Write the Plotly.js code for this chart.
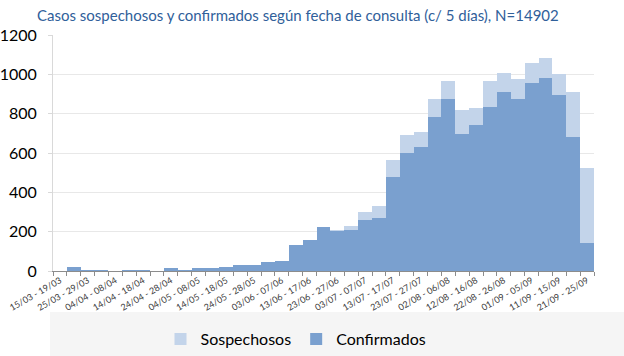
<!DOCTYPE html>
<html>
<head>
<meta charset="utf-8">
<script src="https://cdn.plot.ly/plotly-3.0.1.min.js"></script>
<style>html,body{margin:0;padding:0;background:#fff;}#chart{width:624px;height:356px;}</style>
</head>
<body>
<div id="chart"></div>
<script>
const categories = [
  "15/03 - 19/03","20/03 - 24/03","25/03 - 29/03","30/03 - 03/04","04/04 - 08/04","09/04 - 13/04",
  "14/04 - 18/04","19/04 - 23/04","24/04 - 28/04","29/04 - 03/05","04/05 - 08/05","09/05 - 13/05",
  "14/05 - 18/05","19/05 - 23/05","24/05 - 28/05","29/05 - 02/06","03/06 - 07/06","08/06 - 12/06",
  "13/06 - 17/06","18/06 - 22/06","23/06 - 27/06","28/06 - 02/07","03/07 - 07/07","08/07 - 12/07",
  "13/07 - 17/07","18/07 - 22/07","23/07 - 27/07","28/07 - 01/08","02/08 - 06/08","07/08 - 11/08",
  "12/08 - 16/08","17/08 - 21/08","22/08 - 26/08","27/08 - 31/08","01/09 - 05/09","06/09 - 10/09",
  "11/09 - 15/09","16/09 - 20/09","21/09 - 25/09"
];
const confirmados = [2,18,3,7,1,4,3,2,13,6,15,13,18,32,29,45,53,133,157,224,205,208,257,267,476,601,630,782,875,695,742,835,911,876,956,981,895,682,143];
const sospechosos = [0,0,0,0,0,0,0,0,0,0,0,0,0,0,0,0,0,0,0,0,6,19,42,62,88,91,76,92,93,124,85,130,98,98,104,104,109,228,381];
const yTicks = [0,200,400,600,800,1000,1200];

const idx = categories.map((c,i)=>i);
const tickIdx = idx.filter(i => i % 2 === 0);

const traces = [
  {type:'bar', name:'Confirmados', x: idx, y: confirmados, marker:{color:'#7aa0cf', line:{width:0}}, legendrank:2, hoverinfo:'y'},
  {type:'bar', name:'Sospechosos', x: idx, y: sospechosos, marker:{color:'#c3d4ea', line:{width:0}}, legendrank:1, hoverinfo:'y'}
];

const layout = {
  width:624, height:356,
  margin:{l:53, r:30, t:35, b:85},
  paper_bgcolor:'#ffffff', plot_bgcolor:'#ffffff',
  font:{family:'Lato, "Open Sans", sans-serif', color:'#000'},
  barmode:'stack', bargap:0,
  title:{text:'Casos sospechosos y confirmados según fecha de consulta (c/ 5 días), N=14902',
         font:{size:15, color:'#30609a', family:'Lato, sans-serif'},
         xref:'container', x:37/624, xanchor:'left', yref:'container', y:1-16/356, yanchor:'middle'},
  xaxis:{
    automargin:false,
    range:[-0.5, categories.length-0.5], fixedrange:true,
    tickmode:'array', tickvals: tickIdx, ticktext: tickIdx.map(i=>categories[i]),
    tickangle:-30, tickfont:{size:9, color:'#404040'},
    ticks:'', showgrid:false, zeroline:false,
    showline:true, linecolor:'#8c8c8c', linewidth:1,
    minor:{dtick:1, tick0:0.5, ticks:'outside', ticklen:4, tickcolor:'#8c8c8c', showgrid:false}
  },
  yaxis:{
    automargin:false,
    range:[0,1200], tickmode:'array', tickvals: yTicks,
    tickfont:{size:16, color:'#000'},
    showgrid:true, gridcolor:'#e8e8e8', gridwidth:1,
    zeroline:false, showline:true, linecolor:'#d9d9d9',
    ticks:'outside', ticklen:4, tickcolor:'#d9d9d9', ticklabelstandoff:8
  },
  showlegend:true,
  legend:{orientation:'h', xref:'container', yref:'container', x:296/624, xanchor:'center', y:1-339/356, yanchor:'middle',
          font:{size:16, color:'#000'}, bgcolor:'rgba(0,0,0,0)', itemwidth:30, traceorder:'normal'},
  shapes:[{type:'rect', xref:'paper', yref:'paper', x0:-3/541, x1:(624-53)/541, y0:(271-312)/236, y1:(271-360)/236,
           fillcolor:'#f5f5f5', line:{width:0}, layer:'below'}]
};

Plotly.newPlot('chart', traces, layout, {displayModeBar:false, staticPlot:true});
</script>
</body>
</html>
